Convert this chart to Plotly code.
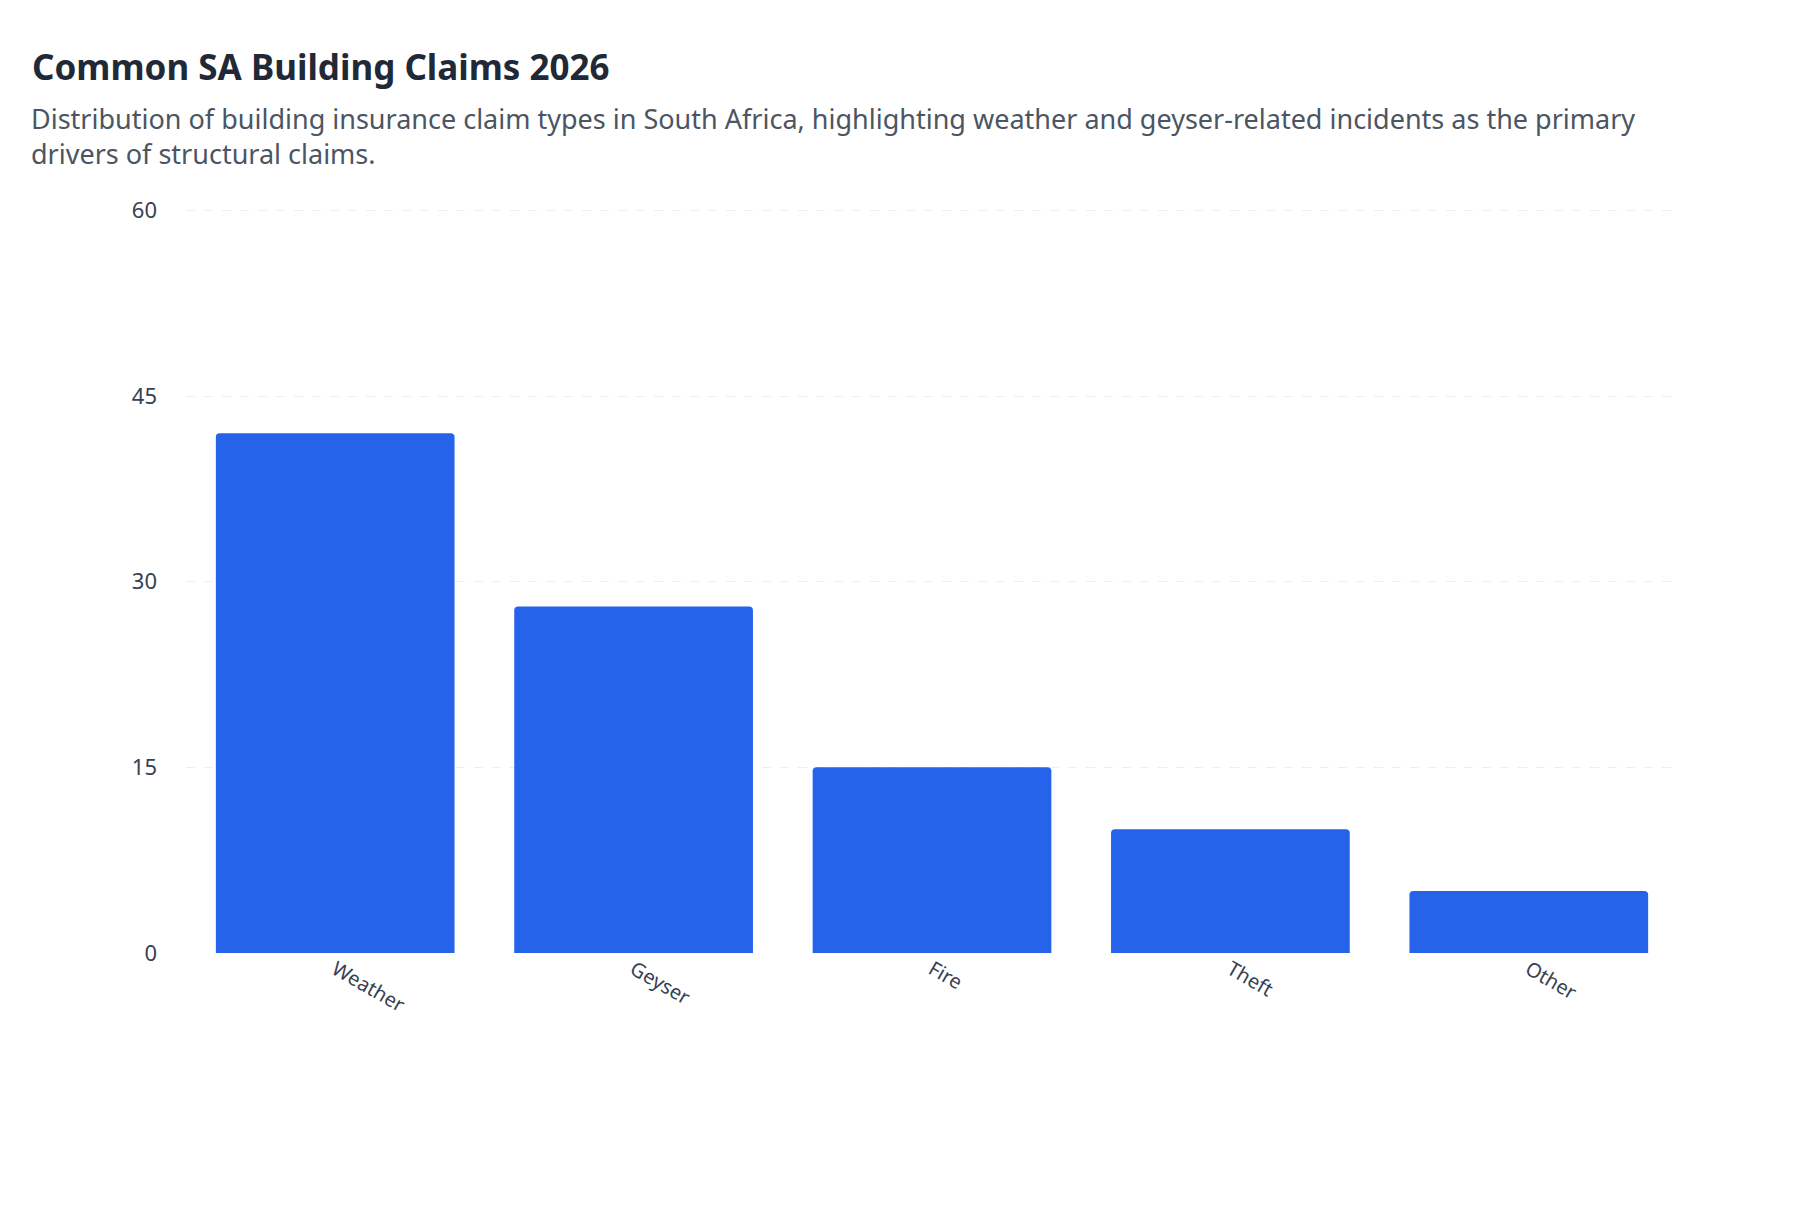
import plotly.graph_objects as go

categories = ["Weather", "Geyser", "Fire", "Theft", "Other"]
values = [42, 28, 15, 10, 5]
y_ticks = [0, 15, 30, 45, 60]

L, R, T, B = 178, 130, 200, 277
PW, PH = 1800 - L - R, 1222 - T - B

fig = go.Figure(go.Bar(x=categories, y=values, marker_color="#2563eb",
                       marker_line_width=0, hoverinfo="x+y"))
fig.update_layout(
    width=1800, height=1222,
    paper_bgcolor="white", plot_bgcolor="white",
    font=dict(family="Noto Sans, Open Sans, sans-serif", color="#374151", size=20),
    margin=dict(l=L, r=R, t=T, b=B),
    bargap=0.2, barcornerradius=4, showlegend=False,
    title=dict(text="<b>Common SA Building Claims 2026</b>", x=24/1800, xanchor="left",
               xref="container", yref="container", y=1-60/1222, yanchor="middle",
               font=dict(size=35, color="#1f2937")),
    annotations=[dict(
        text="Distribution of building insurance claim types in South Africa, highlighting weather and geyser-related incidents as the primary<br>drivers of structural claims.",
        xref="paper", yref="paper", x=(21-L)/PW, y=1+(T-128)/PH,
        xanchor="left", yanchor="middle", align="left", showarrow=False,
        font=dict(size=27, color="#4b5563"))],
)
fig.update_xaxes(tickangle=30, showgrid=False, showline=False, ticks="",
                 tickfont=dict(size=20, color="#374151"))
fig.update_yaxes(range=[0, 60.2], tickvals=y_ticks, showgrid=True, gridcolor="#eceef1",
                 griddash="dash", zeroline=False, showline=False, ticks="",
                 ticklabelstandoff=28, tickfont=dict(size=22, color="#374151"))
fig.write_html("out.html")
